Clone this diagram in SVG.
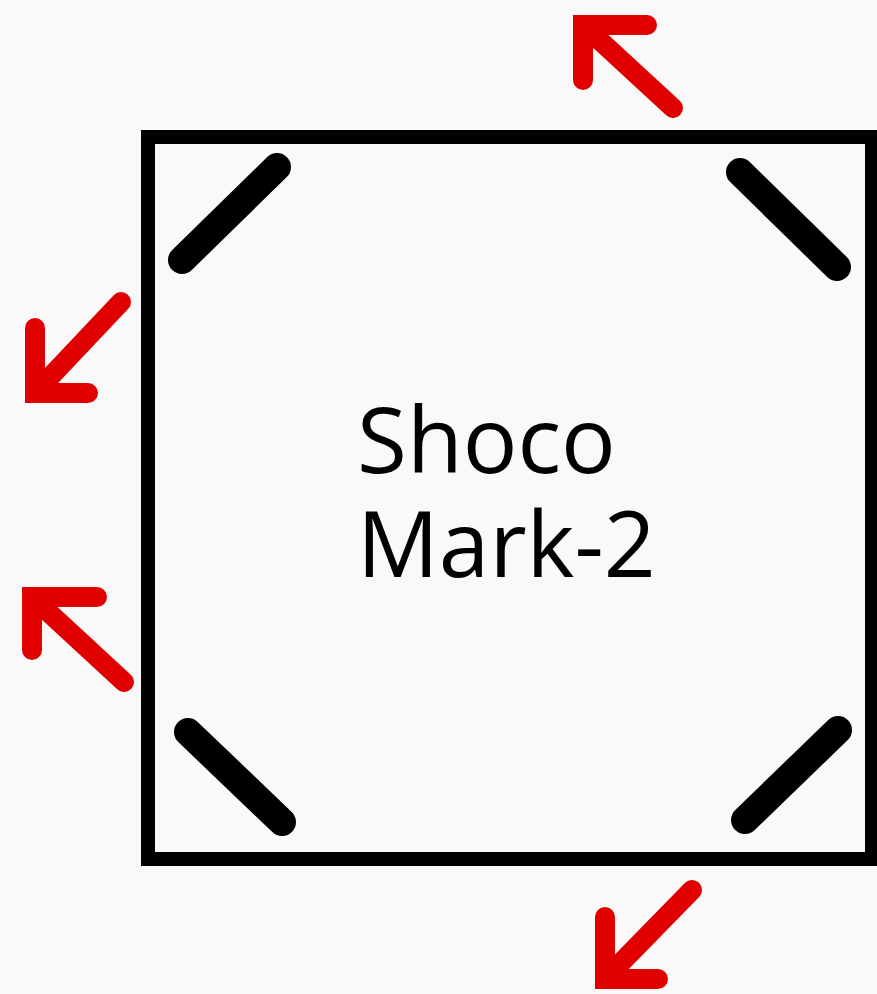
<svg xmlns="http://www.w3.org/2000/svg" width="877" height="994" viewBox="0 0 877 994">
<style>
.frame{fill:none;stroke:#000;stroke-width:14}
.bar{stroke:#000;stroke-width:28;stroke-linecap:round}
.arrow{fill:none;stroke:#e00000;stroke-width:20;stroke-linecap:round;stroke-linejoin:miter}
.label{font-family:"Open Sans","Noto Sans",sans-serif;font-size:91px;font-weight:500;fill:#000}
</style>
<rect width="877" height="994" fill="#f9f9f9"/>
<g id="box">
<rect class="frame" x="148" y="137" width="724" height="722"/>
<line class="bar" x1="182" y1="260" x2="277" y2="167"/>
<line class="bar" x1="740" y1="172" x2="837" y2="267"/>
<line class="bar" x1="188" y1="732" x2="282" y2="822"/>
<line class="bar" x1="745" y1="820" x2="838" y2="730"/>
<text class="label" x="357" y="473">Shoco</text>
<text class="label" x="357" y="577">Mark-2</text>
</g>
<g id="arrows">
<path class="arrow" d="M647,25 L583,25 L583,80 M583,25 L673,108"/>
<path class="arrow" d="M35,328 L35,393 L88,393 M35,393 L121,302"/>
<path class="arrow" d="M97,597 L32,597 L32,650 M32,597 L124,682"/>
<path class="arrow" d="M605,917 L605,979 L658,979 M605,979 L692,890"/>
</g>
</svg>
